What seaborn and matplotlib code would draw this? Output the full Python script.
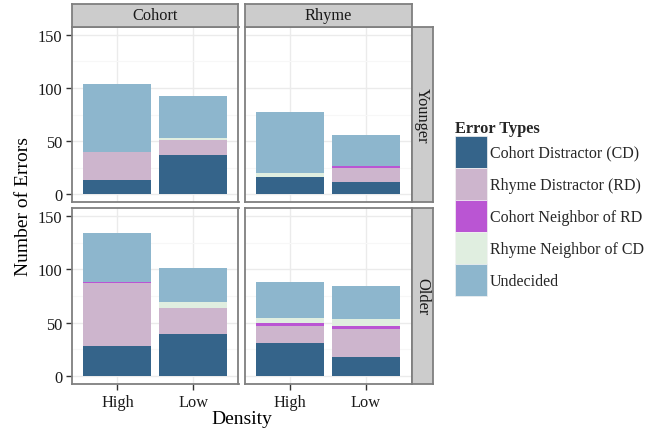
import pandas as pd
import seaborn as sns
import matplotlib.pyplot as plt
from matplotlib.patches import Patch

ages = ["Younger", "Older"]
conditions = ["Cohort", "Rhyme"]
densities = ["High", "Low"]
error_types = ["Cohort Distractor (CD)", "Rhyme Distractor (RD)",
               "Cohort Neighbor of RD", "Rhyme Neighbor of CD", "Undecided"]
colors = ["#35648a", "#cdb5cd", "#ba55d3", "#e0eee0", "#8db6cd"]

# order: Younger-Cohort-High, Younger-Cohort-Low, Younger-Rhyme-High, Younger-Rhyme-Low,
#        Older-Cohort-High,   Older-Cohort-Low,   Older-Rhyme-High,   Older-Rhyme-Low
cd_counts = [13, 37, 16, 11, 28, 39, 31, 18]
rd_counts = [27, 14, 0, 14, 59, 25, 16, 26]
cn_counts = [0, 0, 0, 1, 1, 0, 3, 3]
rn_counts = [0, 2, 4, 0, 0, 5, 4, 6]
und_counts = [64, 39, 57, 30, 46, 32, 34, 31]

rows = []
i = 0
for age in ages:
    for cond in conditions:
        for dens in densities:
            vals = [cd_counts[i], rd_counts[i], cn_counts[i], rn_counts[i], und_counts[i]]
            for t, v in zip(error_types, vals):
                rows.append({"Age": age, "Condition": cond, "Density": dens,
                             "Type": t, "Count": v})
            i += 1
df = pd.DataFrame(rows)
df["Type"] = pd.Categorical(df["Type"], error_types, ordered=True)
df = df.sort_values(["Age", "Condition", "Density", "Type"])
df["Cum"] = df.groupby(["Age", "Condition", "Density"])["Count"].cumsum()

sns.set_style("white")
plt.rcParams["font.family"] = ["Liberation Serif", "DejaVu Serif"]
txt = "#1a1a1a"
W, H = 656, 431


def rect(x0, y0, x1, y1):
    return [x0 / W, 1 - y1 / H, (x1 - x0) / W, (y1 - y0) / H]


fig = plt.figure(figsize=(W / 100, H / 100), dpi=100)

col_x = [(72, 238.5), (244.5, 411.5)]
row_y = [(28, 203), (209, 385)]

for r, age in enumerate(ages):
    for c, cond in enumerate(conditions):
        x0, x1 = col_x[c]
        y0, y1 = row_y[r]
        ax = fig.add_axes(rect(x0, y0, x1, y1))
        sub = df[(df["Age"] == age) & (df["Condition"] == cond)]
        # stacked bars: draw cumulative totals from the top layer down
        for t, col in reversed(list(zip(error_types, colors))):
            part = sub[sub["Type"] == t]
            sns.barplot(data=part, x="Density", y="Cum", order=densities,
                        color=col, width=0.9, errorbar=None, linewidth=0,
                        saturation=1, ax=ax)
        ax.set_xlim(-0.6, 1.6)
        ax.set_ylim(-7.5, 157.5)
        ax.set_yticks([0, 50, 100, 150])
        ax.set_yticks([25, 75, 125], minor=True)
        ax.grid(True, which="major", color="#ebebeb", lw=1.0)
        ax.grid(True, which="minor", axis="y", color="#f7f7f7", lw=0.8)
        ax.set_axisbelow(True)
        ax.set_xlabel("")
        ax.set_ylabel("")
        for s in ax.spines.values():
            s.set_color("#7f7f7f")
            s.set_linewidth(1.3)
        ax.tick_params(which="major", direction="out", length=4, width=1,
                       color="#333333", labelsize=11.8, labelcolor=txt, pad=3)
        ax.tick_params(which="minor", length=0)
        ax.tick_params(axis="x", bottom=(r == 1), labelbottom=(r == 1))
        ax.tick_params(axis="y", left=(c == 0), labelleft=(c == 0))

        if r == 0:
            sax = fig.add_axes(rect(x0, 5, x1, 27.5))
            sax.set_facecolor("#cccccc")
            sax.set_xticks([])
            sax.set_yticks([])
            for s in sax.spines.values():
                s.set_color("#7f7f7f")
                s.set_linewidth(1.3)
            sax.text(0.5, 0.5, cond, ha="center", va="center",
                     fontsize=11.8, color=txt, transform=sax.transAxes)
        if c == 1:
            sax = fig.add_axes(rect(411.5, y0, 433, y1))
            sax.set_facecolor("#cccccc")
            sax.set_xticks([])
            sax.set_yticks([])
            for s in sax.spines.values():
                s.set_color("#7f7f7f")
                s.set_linewidth(1.3)
            sax.text(0.5, 0.5, age, ha="center", va="center", rotation=270,
                     fontsize=11.8, color=txt, transform=sax.transAxes)

fig.text(23 / W, 1 - 206.5 / H, "Number of Errors", rotation=90,
         ha="center", va="center", fontsize=14, color="black")
fig.text(241.7 / W, 1 - 420 / H, "Density", ha="center", va="center",
         fontsize=14, color="black")

handles = [Patch(facecolor=col, edgecolor="#f2f2f2", lw=0.5) for col in colors]
fig.legend(handles, error_types, loc="upper left",
           bbox_to_anchor=(455 / W, 1 - 121 / H), frameon=False,
           title="Error Types", alignment="left",
           title_fontproperties={"weight": "bold", "size": 11.8},
           fontsize=11.5, handlelength=2.0, handleheight=2.7,
           labelspacing=0.0, handletextpad=0.2, borderpad=0, borderaxespad=0)

plt.savefig("out.png", dpi=100)
